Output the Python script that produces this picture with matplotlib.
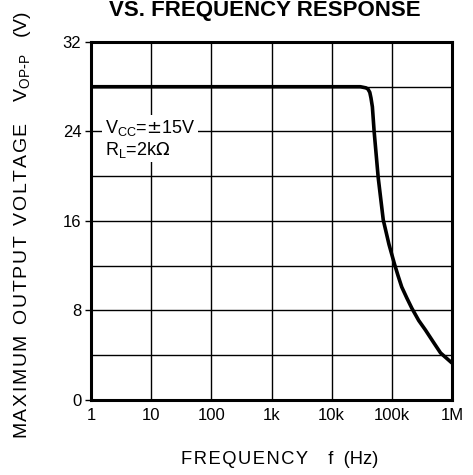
import numpy as np
import matplotlib
matplotlib.use('Agg')
import matplotlib.pyplot as plt

# values
freq = [1, 10, 100, 1e3, 1e4, 3.0e4, 3.7e4, 4.0e4, 4.3e4, 4.5e4, 4.75e4, 5.08e4,
        5.93e4, 7.2e4, 8.97e4, 1.1e5, 1.27e5, 1.46e5, 1.78e5, 2.15e5, 2.8e5,
        3.62e5, 5.0e5, 6.46e5, 1e6]
vout = [28, 28, 28, 28, 28, 28, 27.9, 27.8, 27.5, 27.0, 26.2, 24,
        19.9, 16.1, 13.9, 12.2, 11.1, 10.1, 9.1, 8.2, 7.1,
        6.25, 5.1, 4.2, 3.3]

xticks = [1, 10, 100, 1e3, 1e4, 1e5, 1e6]
xticklabels = ['1', '10', '100', '1k', '10k', '100k', '1M']
yticks = [0, 8, 16, 24, 32]

plt.rcParams['font.family'] = ['Liberation Sans', 'DejaVu Sans']
hair = '\u200a'


def spread(s):
    return hair.join(s)


fig = plt.figure(figsize=(4.73, 4.75), dpi=100)
ax = fig.add_axes([0.1924, 0.158, 0.7632, 0.7536])

ax.set_xscale('log')
ax.set_xlim(1, 1e6)
ax.set_ylim(0, 32)

# grid every decade / every 4 V
for x in xticks[1:-1]:
    ax.axvline(x, color='black', lw=1.0, zorder=1)
for y in range(4, 32, 4):
    ax.axhline(y, color='black', lw=1.0, zorder=1)

ax.plot(freq, vout, color='black', lw=2.6, solid_capstyle='butt',
        solid_joinstyle='round', zorder=3)

ax.set_xticks(xticks)
ax.set_xticklabels(xticklabels, fontsize=12)
ax.minorticks_off()
ax.set_yticks(yticks)
ax.set_yticklabels([str(v) for v in yticks], fontsize=12)
ax.tick_params(axis='x', length=0, pad=6)
ax.tick_params(axis='y', length=4, width=1, color='black', pad=3)
for s in ax.spines.values():
    s.set_linewidth(2.2)

ax.text(1.72, 24.3, r'V$_{\mathregular{CC}}$=$\pm$15V', fontsize=13, va='center',
        ha='left', bbox=dict(facecolor='white', edgecolor='none', pad=2), zorder=4)
ax.text(1.72, 22.3, r'R$_{\mathregular{L}}$=2k$\Omega$', fontsize=13, va='center',
        ha='left', bbox=dict(facecolor='white', edgecolor='none', pad=1), zorder=4)

fig.text(0.559, 0.999, 'VS. FREQUENCY RESPONSE', fontsize=16, fontweight='bold',
         ha='center', va='top')
fig.text(0.592, 0.032, spread('FREQUENCY') + '    f  (Hz)', fontsize=13.2,
         ha='center', va='center')
fig.text(0.047, 0.526,
         spread('MAXIMUM') + '  ' + spread('OUTPUT') + '  ' + spread('VOLTAGE')
         + '    ' + r'V$_{\mathregular{OP\text{-}P}}$' + '   (V)',
         fontsize=14, rotation=90, ha='center', va='center')

fig.savefig('out.png', dpi=100)
